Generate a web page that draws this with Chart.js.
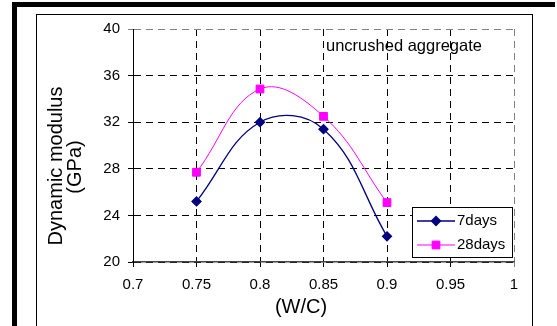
<!DOCTYPE html>
<html>
<head>
<meta charset="utf-8">
<script src="https://cdn.jsdelivr.net/npm/chart.js@4.4.1/dist/chart.umd.min.js"></script>
<style>
  body { margin: 0; background: #fff; }
  #wrap { position: relative; width: 557px; height: 326px; overflow: hidden; }
  #frameTop { position: absolute; left: 12px; top: 2px; width: 543px; height: 5px; background: #000; }
  #frameLeft { position: absolute; left: 12px; top: 2px; width: 5px; height: 330px; background: #000; }
  #box { position: absolute; left: 36px; top: 14px; width: 497px; height: 340px; border: 1px solid #000; box-sizing: border-box; }
  canvas { position: absolute; left: 0; top: 0; }
</style>
</head>
<body>
<div id="wrap">
  <div id="frameTop"></div>
  <div id="frameLeft"></div>
  <div id="box"></div>
  <canvas id="chart" width="557" height="326"></canvas>
</div>
<script>
// data
const wc = [0.75, 0.8, 0.85, 0.9];
const days7 = [25.2, 32.0, 31.4, 22.2];
const days28 = [27.7, 34.85, 32.5, 25.1];
const seriesNames = ['7days', '28days'];
const xTicks = [0.7, 0.75, 0.8, 0.85, 0.9, 0.95, 1];
const yTicks = [20, 24, 28, 32, 36, 40];
const xTitle = '(W/C)';
const yTitle = ['Dynamic modulus', '(GPa)'];
const note = 'uncrushed aggregate';

const FONT = "'Liberation Sans', Arial, sans-serif";

function toPoints(values) {
    return wc.map((x, i) => ({ x: x, y: values[i] }));
}

// titles, note and legend drawn on the canvas
const extras = {
    id: 'extras',
    afterDraw(chart) {
        const ctx = chart.ctx;
        ctx.save();
        ctx.fillStyle = '#000';
        ctx.textBaseline = 'middle';

        // y title, two lines
        ctx.font = '20px ' + FONT;
        ctx.textAlign = 'center';
        ctx.save();
        ctx.translate(56.5, 166);
        ctx.rotate(-Math.PI / 2);
        ctx.fillText(yTitle[0], 0, 0);
        ctx.restore();
        ctx.save();
        ctx.translate(75, 167);
        ctx.rotate(-Math.PI / 2);
        ctx.fillText(yTitle[1], 0, 0);
        ctx.restore();

        // x title
        ctx.font = '20px ' + FONT;
        ctx.fillText(xTitle, 301, 307);

        // note in the corner
        ctx.font = '16.5px ' + FONT;
        ctx.textAlign = 'left';
        ctx.fillText(note, 326, 46);

        // legend
        const lx = 412, ly = 207, lw = 100, lh = 50;
        ctx.fillStyle = '#fff';
        ctx.fillRect(lx, ly, lw, lh);
        ctx.strokeStyle = '#000';
        ctx.lineWidth = 1;
        ctx.strokeRect(lx + 0.5, ly + 0.5, lw, lh);
        chart.data.datasets.forEach((ds, i) => {
            const cy = 221 + i * 24;
            ctx.strokeStyle = ds.borderColor;
            ctx.lineWidth = ds.borderWidth;
            ctx.beginPath();
            ctx.moveTo(417, cy);
            ctx.lineTo(455, cy);
            ctx.stroke();
            ctx.fillStyle = ds.pointBackgroundColor;
            Chart.helpers.drawPoint(ctx, {
                pointStyle: ds.pointStyle,
                radius: ds.pointRadius,
                rotation: 0,
                borderWidth: 1
            }, 436, cy);
            ctx.fillStyle = '#000';
            ctx.font = '15px ' + FONT;
            ctx.fillText(ds.label, 457, cy);
        });
        ctx.restore();
    }
};

const ctx = document.getElementById('chart').getContext('2d');
new Chart(ctx, {
    type: 'line',
    data: {
        datasets: [
            {
                label: seriesNames[0],
                data: toPoints(days7),
                borderColor: '#000080',
                backgroundColor: '#000080',
                pointBackgroundColor: '#000080',
                pointBorderColor: '#000080',
                pointStyle: 'rectRot',
                pointRadius: 4.5,
                borderWidth: 1.3,
                tension: 0.4
            },
            {
                label: seriesNames[1],
                data: toPoints(days28),
                borderColor: '#ff00ff',
                backgroundColor: '#ff00ff',
                pointBackgroundColor: '#ff00ff',
                pointBorderColor: '#ff00ff',
                pointStyle: 'rect',
                pointRadius: 5.5,
                borderWidth: 1,
                tension: 0.4
            }
        ]
    },
    options: {
        responsive: false,
        animation: false,
        layout: { padding: { left: 37, top: 29, right: 43, bottom: 0 } },
        plugins: {
            legend: { display: false },
            tooltip: { enabled: false }
        },
        scales: {
            x: {
                type: 'linear',
                min: 0.7,
                max: 1,
                afterBuildTicks: s => { s.ticks = xTicks.map(v => ({ value: v })); },
                afterFit: s => { s.height = 64; },
                ticks: {
                    color: '#000',
                    font: { family: FONT, size: 15 },
                    padding: 9,
                    maxRotation: 0,
                    callback: v => String(v)
                },
                grid: {
                    color: c => (c.tick && c.tick.value === 1) ? '#808080' : '#000',
                    tickLength: 5,
                    tickBorderDash: []
                },
                border: { display: true, color: '#444', width: 1.5, dash: [7, 5] }
            },
            y: {
                min: 20,
                max: 40,
                afterBuildTicks: s => { s.ticks = yTicks.map(v => ({ value: v })); },
                afterFit: s => { s.width = 96; },
                ticks: {
                    color: '#000',
                    font: { family: FONT, size: 15 },
                    padding: 8,
                    callback: v => String(v)
                },
                grid: {
                    color: c => (c.tick && c.tick.value === 40) ? '#808080' : '#000',
                    tickLength: 5,
                    tickBorderDash: []
                },
                border: { display: true, color: '#000', width: 1, dash: [7, 5] }
            }
        }
    },
    plugins: [extras]
});
</script>
</body>
</html>
